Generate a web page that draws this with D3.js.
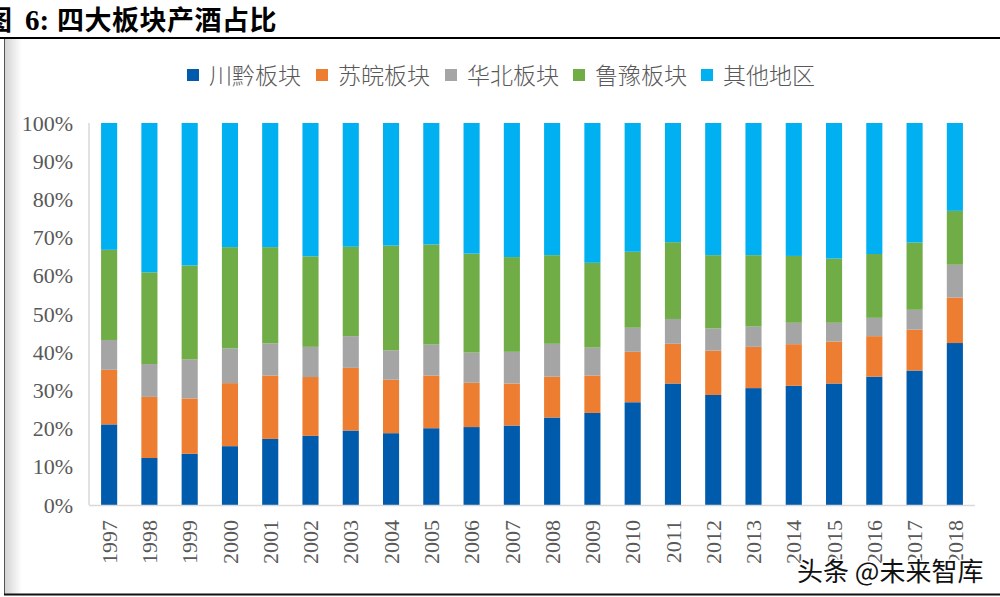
<!DOCTYPE html>
<html><head><meta charset="utf-8">
<script src="https://cdn.jsdelivr.net/npm/d3@7"></script>
<style>
html,body{margin:0;padding:0;background:#fff;}
svg{display:block;}
</style></head>
<body>
<svg id="chart" width="1000" height="597"></svg>
<script>
const years = ["1997","1998","1999","2000","2001","2002","2003","2004","2005","2006","2007","2008","2009","2010","2011","2012","2013","2014","2015","2016","2017","2018"];
const seriesNames = ["川黔板块","苏皖板块","华北板块","鲁豫板块","其他地区"];
const chuanqian = [21.1,12.3,13.4,15.4,17.3,18.1,19.5,18.8,20.1,20.4,20.8,22.9,24.1,26.9,31.8,28.8,30.6,31.2,31.8,33.6,35.2,42.4];
const suwan     = [14.3,16.0,14.5,16.5,16.6,15.4,16.4,14.0,13.8,11.6,11.0,10.7,9.8,13.2,10.4,11.6,10.8,10.9,11.0,10.6,10.7,11.9];
const huabei    = [7.8,8.6,10.2,9.1,8.4,7.9,8.3,7.7,8.1,7.9,8.3,8.6,7.3,6.3,6.5,5.8,5.3,5.6,4.9,4.8,5.2,8.6];
const luyu      = [23.6,24.0,24.6,26.5,25.2,23.7,23.4,27.4,26.2,25.9,24.8,23.2,22.2,19.9,20.1,19.2,18.7,17.5,16.8,16.7,17.6,14.1];
const qita      = [33.2,39.1,37.3,32.5,32.5,34.9,32.4,32.1,31.8,34.2,35.1,34.6,36.6,33.7,31.2,34.6,34.6,34.8,35.5,34.3,31.3,23.0];
const yTicks = [0,10,20,30,40,50,60,70,80,90,100];
const colors = ["#005bac","#ed7d31","#a5a5a5","#70ad47","#00b0f0"];

const svg = d3.select("#chart");

// left page border with shadow
const defs = svg.append("defs");
const grad = defs.append("linearGradient").attr("id","shadow").attr("x1","0").attr("x2","1");
grad.append("stop").attr("offset","0").attr("stop-color","#d4d4d4");
grad.append("stop").attr("offset","1").attr("stop-color","#ffffff");
svg.append("rect").attr("x",5).attr("y",39).attr("width",17).attr("height",555).attr("fill","url(#shadow)");
svg.append("line").attr("x1",4.5).attr("x2",4.5).attr("y1",39).attr("y2",594).attr("stroke","#555").attr("stroke-width",1);
svg.append("line").attr("x1",4).attr("x2",1000).attr("y1",594.5).attr("y2",594.5).attr("stroke","#111").attr("stroke-width",2);

// title
const title = svg.append("text").attr("y",30).attr("fill","#000")
  .style("font-family","'Noto Sans CJK SC'").style("font-weight","700").style("font-size","27px");
title.append("tspan").attr("x",-15).text("图");
title.append("tspan").attr("x",25).style("font-family","'Liberation Serif'").style("font-size","29px").text("6:");
title.append("tspan").attr("x",57).style("letter-spacing","0.5px").text("四大板块产酒占比");
svg.append("line").attr("x1",0).attr("x2",1000).attr("y1",38).attr("y2",38).attr("stroke","#000").attr("stroke-width",2);

// scales
const x = d3.scaleBand().domain(years).range([89,975]).paddingInner(0.6).paddingOuter(0.3);
const y = d3.scaleLinear().domain([0,100]).range([505,123]);

const rows = years.map((yr,i)=>({year:yr, "川黔板块":chuanqian[i], "苏皖板块":suwan[i], "华北板块":huabei[i], "鲁豫板块":luyu[i], "其他地区":qita[i]}));
const stack = d3.stack().keys(seriesNames).offset(d3.stackOffsetExpand);
const stacked = stack(rows);

svg.append("g").selectAll("g").data(stacked).join("g")
  .attr("fill",(d,i)=>colors[i])
  .selectAll("rect").data(d=>d).join("rect")
  .attr("x",d=>x(d.data.year))
  .attr("width",x.bandwidth())
  .attr("y",d=>y(d[1]*100))
  .attr("height",d=>y(d[0]*100)-y(d[1]*100));

// axes lines
svg.append("line").attr("x1",89).attr("x2",89).attr("y1",123).attr("y2",505).attr("stroke","#d9d9d9").attr("stroke-width",1.5);
svg.append("line").attr("x1",89).attr("x2",975).attr("y1",505.5).attr("y2",505.5).attr("stroke","#d9d9d9").attr("stroke-width",1.5);

// y labels
const yAxis = d3.axisLeft(y).tickValues(yTicks).tickFormat(d=>d+"%").tickSize(0).tickPadding(0);
const yg = svg.append("g").attr("transform","translate(73,0)").call(yAxis);
yg.select(".domain").remove();
yg.selectAll("text").attr("fill","#595959").style("font-family","'Liberation Serif'").style("font-size","22px");

// x labels
svg.append("g").selectAll("text").data(years).join("text")
  .attr("transform",d=>`translate(${x(d)+x.bandwidth()/2},520) rotate(-90)`)
  .attr("text-anchor","end").attr("dy","0.35em")
  .attr("fill","#595959").style("font-family","'Liberation Serif'").style("font-size","22px")
  .text(d=>d);

// legend
const legX = [187,316,445,573,701];
const lg = svg.append("g").selectAll("g").data(seriesNames).join("g")
  .attr("transform",(d,i)=>`translate(${legX[i]},0)`);
lg.append("rect").attr("x",0).attr("y",69).attr("width",12).attr("height",12).attr("fill",(d,i)=>colors[i]);
lg.append("text").attr("x",22).attr("y",84).attr("fill","#595959")
  .style("font-family","'Noto Sans CJK SC'").style("font-weight","300").style("font-size","23px").text(d=>d);

// watermark
svg.append("text").attr("x",797).attr("y",581).attr("fill","#111").attr("stroke","#fff").attr("stroke-width",3)
  .style("paint-order","stroke").style("font-family","'Noto Sans CJK SC'").style("font-size","26px").text("头条 @未来智库");
</script>
</body></html>
